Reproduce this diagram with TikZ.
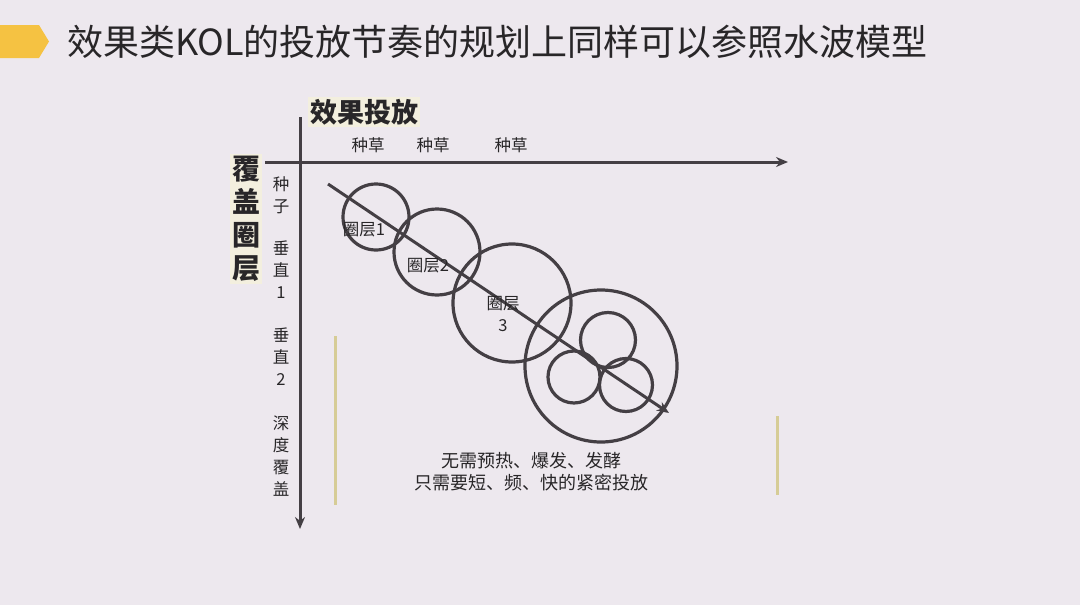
\documentclass[tikz,border=0pt]{standalone}
\usepackage{fontspec}
\setmainfont{Noto Sans CJK SC}
\usetikzlibrary{arrows.meta}
\definecolor{bg}{RGB}{237,232,238}
\definecolor{ink}{RGB}{68,63,68}
\definecolor{txt}{RGB}{40,38,40}
\definecolor{gold}{RGB}{245,194,66}
\definecolor{straw}{RGB}{214,204,150}
\definecolor{glow}{RGB}{243,239,222}
\tikzset{ring/.style={circle,draw=ink,line width=3.2pt,inner sep=0pt},
  axis/.style={draw=ink,line width=3pt,-{Stealth[length=12pt,width=10pt]}},
  lbl/.style={text=txt,inner sep=0pt,font=\fontsize{16.5}{22}\selectfont,align=center},
  bar/.style={draw=straw,line width=3pt}}
\begin{document}
\begin{tikzpicture}[x=1pt,y=-1pt]
\fill[bg] (0,0) rectangle (1080,605);
\useasboundingbox (0,0) rectangle (1080,605);
% title
\fill[gold] (0,25) -- (39,25) -- (49,41.5) -- (39,58) -- (0,58) -- cycle;
\node[anchor=west,inner sep=0pt,text=txt,font=\fontsize{36}{36}\selectfont] (title) at (67,42) {效果类KOL的投放节奏的规划上同样可以参照水波模型};
% axes
\coordinate (ytop) at (300,117); \coordinate (ybot) at (300,529);
\coordinate (xl) at (265,162); \coordinate (xr) at (788,162);
\draw[axis] (ytop) -- (ybot);
\draw[axis] (xl) -- (xr);
\node[fill=glow,inner sep=2pt,text=txt,font=\bfseries\fontsize{27}{27}\selectfont] (xname) at (364,112) {效果投放};
\node[fill=glow,inner sep=2pt,text=txt,align=center,font=\bfseries\fontsize{28}{33}\selectfont] (yname) at (246,219) {覆\\盖\\圈\\层};
\foreach \x/\n in {368/a,433/b,511/c} \node[lbl] (grass\n) at (\x,145) {种草};
\node[lbl] (seed) at (281,195) {种\\子};
\node[lbl] (vert1) at (281,270) {垂\\直\\1};
\node[lbl] (vert2) at (281,357) {垂\\直\\2};
\node[lbl] (deep) at (281,456) {深\\度\\覆\\盖};
% bars
\draw[bar] (335,336) -- (335,505);
\draw[bar] (777,416) -- (777,495);
% ripples
\node[ring,minimum size=66pt] (c1) at (376,217) {};
\node[ring,minimum size=86pt] (c2) at (437,252) {};
\node[ring,minimum size=118pt] (c3) at (512,303) {};
\node[ring,minimum size=152pt] (c4) at (601,366) {};
\node[ring,minimum size=55pt] (s1) at (608,340) {};
\node[ring,minimum size=52pt] (s2) at (574,377) {};
\node[ring,minimum size=53pt] (s3) at (626,385) {};
\coordinate (d0) at (328,184); \coordinate (d1) at (669,413);
\draw[axis] (d0) -- (d1);
\node[lbl] (l1) at (364,230) {圈层1};
\node[lbl] (l2) at (428,266) {圈层2};
\node[lbl] (l3) at (503,314) {圈层\\3};
\node[lbl,font=\fontsize{18}{22}\selectfont] (note) at (531,472) {无需预热、爆发、发酵\\只需要短、频、快的紧密投放};
\end{tikzpicture}
\end{document}
